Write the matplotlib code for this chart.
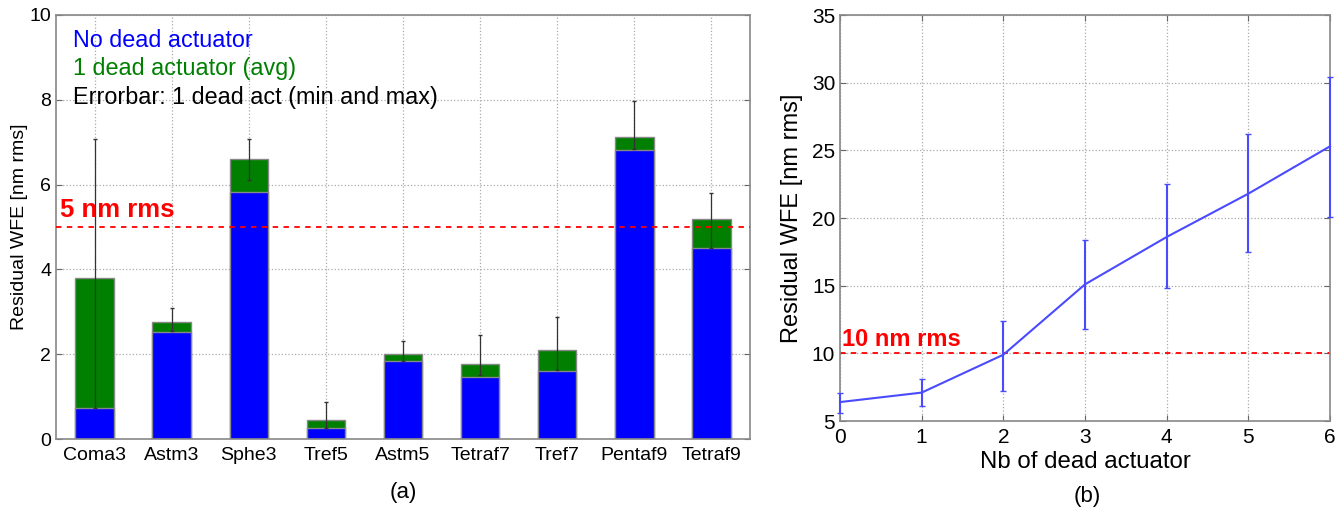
import matplotlib.pyplot as plt
import numpy as np

plt.rcParams['font.family'] = ['Liberation Sans', 'DejaVu Sans']

# panel (a): residual WFE per mode
modes = ['Coma3', 'Astm3', 'Sphe3', 'Tref5', 'Astm5', 'Tetraf7', 'Tref7', 'Pentaf9', 'Tetraf9']
no_dead = [0.72, 2.53, 5.82, 0.25, 1.83, 1.47, 1.60, 6.82, 4.50]
one_dead_avg = [3.80, 2.75, 6.60, 0.45, 2.00, 1.76, 2.10, 7.12, 5.20]
one_dead_min = [0.72, 2.55, 6.12, 0.27, 1.85, 1.50, 1.62, 6.85, 4.50]
one_dead_max = [7.07, 3.10, 7.08, 0.88, 2.30, 2.45, 2.87, 7.98, 5.80]

# panel (b): residual WFE vs number of dead actuators
n_dead = [0, 1, 2, 3, 4, 5, 6]
wfe_mean = [6.4, 7.1, 9.9, 15.1, 18.6, 21.8, 25.3]
wfe_min = [5.6, 6.1, 7.2, 11.8, 14.8, 17.5, 20.1]
wfe_max = [7.1, 8.1, 12.4, 18.4, 22.5, 26.2, 30.4]


def style_axes(ax, labelsize):
    ax.grid(True, color='#aaaaaa', linestyle=':', linewidth=0.9)
    ax.set_axisbelow(True)
    for s in ax.spines.values():
        s.set_color('#888888')
        s.set_linewidth(1.2)
    ax.tick_params(direction='in', top=True, right=True, color='#666666',
                   labelsize=labelsize, length=4)


fig = plt.figure(figsize=(13.44, 5.13), dpi=100)

# ---- (a)
ax1 = fig.add_axes([0.0417, 0.1442, 0.5163, 0.8266])
x = np.arange(len(modes))
avg = np.array(one_dead_avg)
nd = np.array(no_dead)
ax1.bar(x, avg, width=0.5, color='#007f00', edgecolor='#888888', linewidth=1, zorder=2)
ax1.bar(x, nd, width=0.5, color='#0000ff', edgecolor='#888888', linewidth=1, zorder=2)
lo = np.array(one_dead_min)
hi = np.array(one_dead_max)
ax1.errorbar(x, (lo + hi) / 2, yerr=[(hi - lo) / 2, (hi - lo) / 2], fmt='none',
             ecolor='#333333', elinewidth=0.9, capsize=1.5, zorder=3)
ax1.axhline(5, color='red', linestyle='--', linewidth=1.3, dashes=(3, 3), zorder=3)
ax1.text(0.005, 5.12, '5 nm rms', color='red', fontsize=18.5, fontweight='bold',
         transform=ax1.get_yaxis_transform(), va='bottom', ha='left')
ax1.set_xlim(-0.5, 8.5)
ax1.set_ylim(0, 10)
ax1.set_xticks(x)
ax1.set_xticklabels(modes)
ax1.set_yticks([0, 2, 4, 6, 8, 10])
ax1.set_ylabel('Residual WFE [nm rms]', fontsize=14, labelpad=1)
style_axes(ax1, 14)
ax1.tick_params(axis='x', length=0, pad=6)
ax1.text(0.025, 0.94, 'No dead actuator', color='#0000ff', fontsize=16.8,
         transform=ax1.transAxes, va='center')
ax1.text(0.025, 0.873, '1 dead actuator (avg)', color='#007f00', fontsize=16.8,
         transform=ax1.transAxes, va='center')
ax1.text(0.025, 0.805, 'Errorbar: 1 dead act (min and max)', color='black', fontsize=16.8,
         transform=ax1.transAxes, va='center')
fig.text(0.3, 0.039, '(a)', fontsize=16, ha='center', va='center')

# ---- (b)
ax2 = fig.add_axes([0.625, 0.1793, 0.3646, 0.7914])
mean = np.array(wfe_mean)
ax2.errorbar(n_dead, mean, yerr=[mean - np.array(wfe_min), np.array(wfe_max) - mean],
             color='#4a4aff', linewidth=1.5, elinewidth=1.5, capsize=2.5, zorder=3,
             clip_on=False)
ax2.axhline(10, color='red', linestyle='--', linewidth=1.3, dashes=(3, 3), zorder=2)
ax2.text(0.005, 10.2, '10 nm rms', color='red', fontsize=17, fontweight='bold',
         transform=ax2.get_yaxis_transform(), va='bottom', ha='left')
ax2.set_xlim(0, 6)
ax2.set_ylim(5, 35)
ax2.set_xticks(n_dead)
ax2.set_yticks([5, 10, 15, 20, 25, 30, 35])
ax2.set_xlabel('Nb of dead actuator', fontsize=17.3, labelpad=3)
ax2.set_ylabel('Residual WFE [nm rms]', fontsize=17, labelpad=6)
style_axes(ax2, 15)
ax2.tick_params(axis='x', pad=5)
fig.text(0.809, 0.033, '(b)', fontsize=16, ha='center', va='center')

fig.savefig('out.png', dpi=100)
